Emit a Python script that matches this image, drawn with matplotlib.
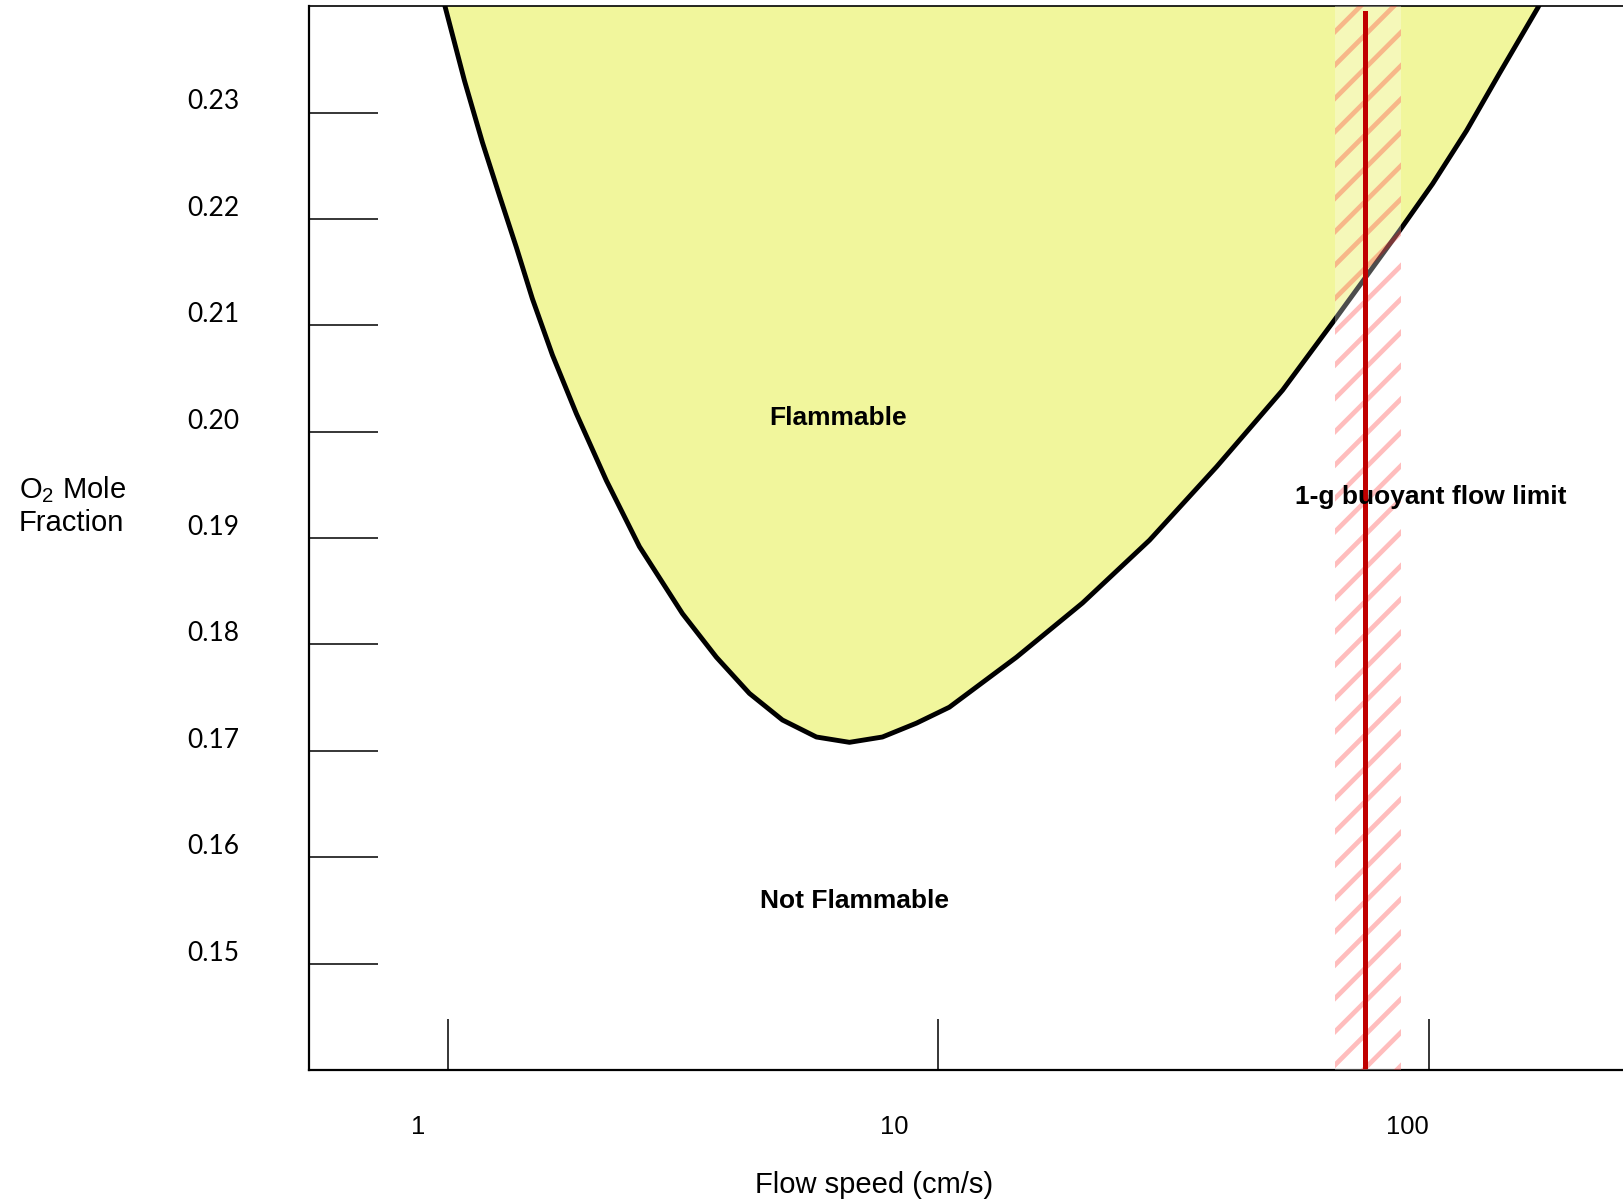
import matplotlib
matplotlib.use("Agg")
import matplotlib.pyplot as plt
from matplotlib.ticker import NullLocator

# Flammability boundary (flow speed in cm/s, O2 mole fraction)
flow_speed = [0.980, 1.081, 1.176, 1.274, 1.380, 1.487, 1.634, 1.828, 2.105, 2.458,
              3.008, 3.528, 4.119, 4.810, 5.642, 6.588, 7.691, 9.022, 10.53, 14.43,
              19.68, 26.95, 36.92, 50.33, 64.24, 87.18, 101.8, 119.4, 139.4, 166.6,
              169.7]
o2_limit = [0.2405, 0.2330, 0.2272, 0.2222, 0.2173, 0.2125, 0.2072, 0.2017, 0.1954, 0.1892,
            0.1829, 0.1788, 0.1754, 0.1729, 0.1713, 0.1708, 0.1713, 0.1726, 0.1741, 0.1788,
            0.1839, 0.1898, 0.1967, 0.2039, 0.2105, 0.2189, 0.2233, 0.2283, 0.2337, 0.2398,
            0.2405]

# 1-g buoyant flow limit and its uncertainty band (cm/s)
buoyant_limit = 74.0
buoyant_band = (64.5, 87.6)

x_ticks = [1, 10, 100]
x_tick_labels = ["1", "10", "100"]
y_ticks = [0.15, 0.16, 0.17, 0.18, 0.19, 0.20, 0.21, 0.22, 0.23]
y_tick_labels = ["0.15", "0.16", "0.17", "0.18", "0.19", "0.20", "0.21", "0.22", "0.23"]

YELLOW = "#F1F69C"
RED = "#C00000"
ARIAL = "Liberation Sans"

plt.rcParams.update({
    "font.family": ARIAL,
    "hatch.linewidth": 3.4,
})

fig = plt.figure(figsize=(16.24, 12.04), dpi=100)
ax = fig.add_axes([0.190, 0.1113, 0.810, 0.8836])
ax.set_xscale("log")
ax.set_xlim(0.52, 250)
ax.set_ylim(0.14, 0.24)

# flammable region + boundary
ax.fill_between(flow_speed, o2_limit, 0.25, color=YELLOW, lw=0, zorder=1)
ax.plot(flow_speed, o2_limit, color="black", lw=3.5, zorder=2,
        solid_joinstyle="round", solid_capstyle="butt")

# hatched band around the buoyant flow limit
ax.axvspan(*buoyant_band, facecolor="white", alpha=0.3, lw=0, zorder=3)
ax.axvspan(*buoyant_band, facecolor="none", edgecolor=(1.0, 0.0, 0.0, 0.26),
           hatch="/", lw=0, zorder=3)
ax.axvline(buoyant_limit, ymin=0.004, ymax=0.994, color=RED, lw=3.6, zorder=4)

# region labels
ax.text(6.25, 0.2013, "Flammable", fontsize=19, fontweight="bold",
        ha="center", va="center", zorder=5)
ax.text(6.76, 0.1559, "Not Flammable", fontsize=19, fontweight="bold",
        ha="center", va="center", zorder=5)
ax.text(100.9, 0.1939, "1-g buoyant flow limit", fontsize=19, fontweight="bold",
        ha="center", va="center", zorder=5)

# axes frame and ticks
for s in ("left", "bottom"):
    ax.spines[s].set_linewidth(1.6)
ax.spines["top"].set_linewidth(1.2)
ax.spines["right"].set_visible(False)

ax.set_xticks(x_ticks)
ax.xaxis.set_minor_locator(NullLocator())
ax.set_yticks(y_ticks)
ax.tick_params(axis="x", direction="in", length=37, width=1.1, labelbottom=False)
ax.tick_params(axis="y", direction="in", length=50, width=1.1, labelleft=False)

# tick labels sit a little off their ticks, as in the original diagram
x_label_dx = [-21.7, -32.1, -15.7]
for v, lab, dx in zip(x_ticks, x_tick_labels, x_label_dx):
    ax.annotate(lab, xy=(v, 0), xycoords=("data", "axes fraction"),
                xytext=(dx, -41), textcoords="offset points",
                ha="center", va="center", fontsize=18.4, annotation_clip=False)
for v, lab in zip(y_ticks, y_tick_labels):
    ax.annotate(lab, xy=(0, v), xycoords=("axes fraction", "data"),
                xytext=(-50, 7.6), textcoords="offset points",
                ha="right", va="center", fontsize=19, family="Lato",
                annotation_clip=False)

fig.text(0.538, 0.0158, "Flow speed (cm/s)", fontsize=21, ha="center", va="center")
fig.text(0.0115, 0.5800, "$\\mathregular{O_2}$ Mole\nFraction", fontsize=21,
         ha="left", va="center", linespacing=1.2)

fig.savefig("out.png", dpi=100)
